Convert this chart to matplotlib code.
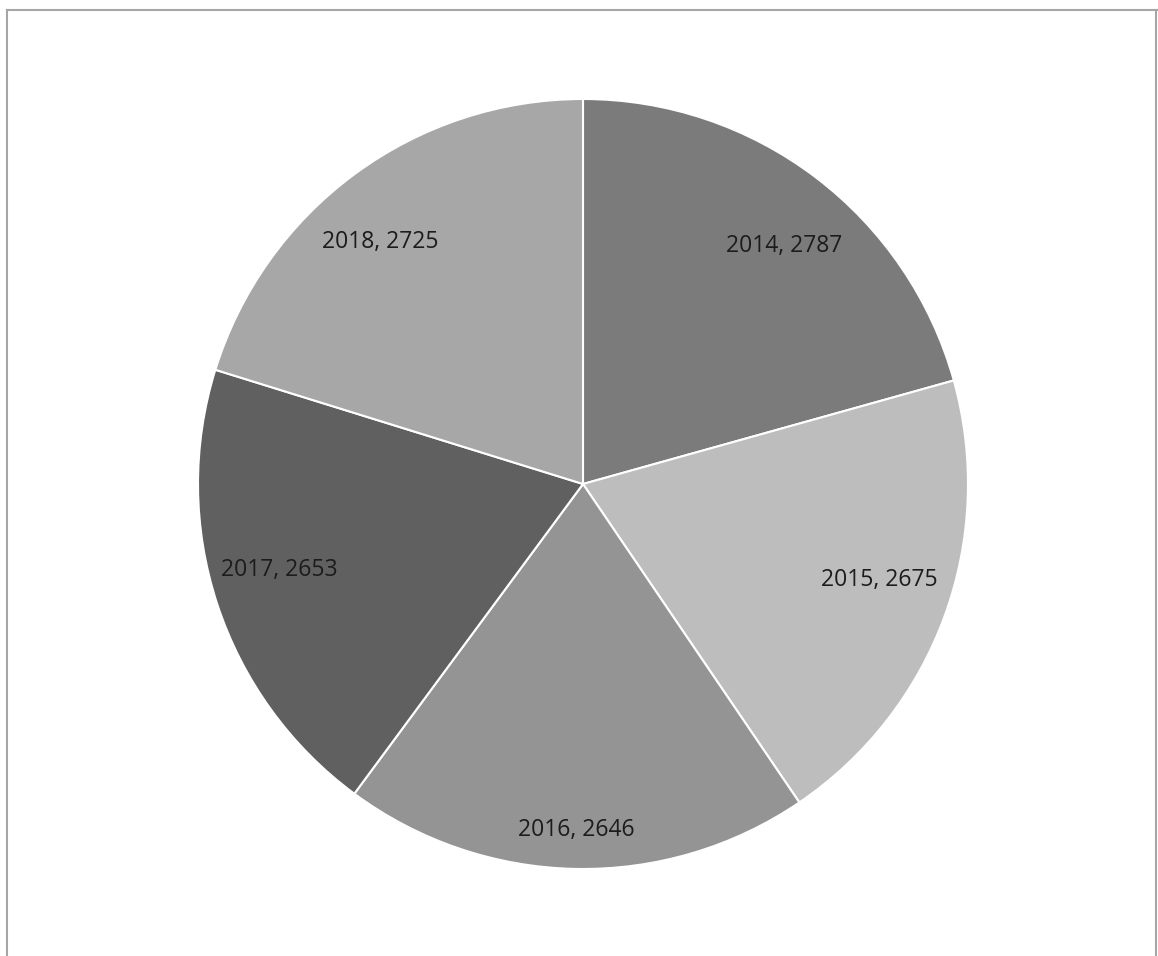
import numpy as np
import matplotlib.pyplot as plt
from matplotlib.lines import Line2D

years = ["2014", "2015", "2016", "2017", "2018"]
values = [2787, 2675, 2646, 2653, 2725]
greys = ["#7b7b7b", "#bdbdbd", "#949494", "#606060", "#a7a7a7"]

W, H = 1158, 956
fig = plt.figure(figsize=(W / 100, H / 100), dpi=100)
fig.patch.set_facecolor("white")

# pie centre and radius in pixels
cx, cy, r = 583, 484, 385
ax = fig.add_axes([(cx - r) / W, (H - cy - r) / H, 2 * r / W, 2 * r / H])

labels = [f"{y}, {v}" for y, v in zip(years, values)]
wedges, texts = ax.pie(values, labels=labels, colors=greys, startangle=90,
                       counterclock=False, labeldistance=0.82,
                       wedgeprops=dict(edgecolor="white", linewidth=1.5),
                       textprops=dict(fontsize=16.5, family="Open Sans", color="#1c1c1c"))

# excel "best fit" label placement: nudge radius / angle a little per label
label_dist = [0.81, 0.81, 0.90, 0.82, 0.82]
label_turn = [-3.0, 2.2, 0.0, -2.3, 3.5]
for w, t, d, da in zip(wedges, texts, label_dist, label_turn):
    ang = np.deg2rad((w.theta1 + w.theta2) / 2 + da)
    t.set_position((d * np.cos(ang), d * np.sin(ang)))
    t.set_horizontalalignment("center")
    t.set_verticalalignment("center")
ax.set_xlim(-1, 1)
ax.set_ylim(-1, 1)
ax.set_aspect("equal")

# frame of the chart area (no bottom edge visible)
def px(x, y):
    return x / W, 1 - y / H

for (x0, y0), (x1, y1) in [((7, 10), (1157, 10)), ((7, 10), (7, 956)), ((1156, 10), (1156, 956))]:
    a, b = px(x0, y0)
    c, d = px(x1, y1)
    fig.add_artist(Line2D([a, c], [b, d], color="#a6a6a6", linewidth=1.5))

fig.savefig("out.png", dpi=100)
